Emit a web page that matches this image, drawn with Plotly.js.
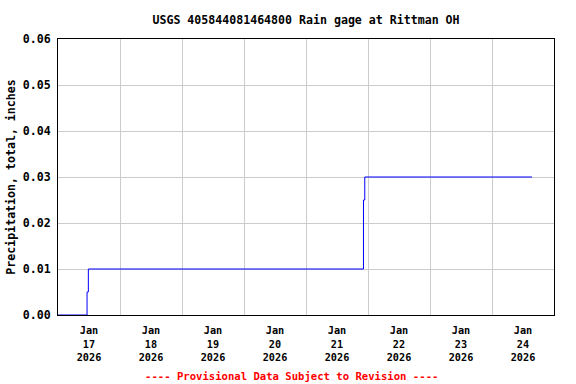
<!DOCTYPE html>
<html>
<head>
<meta charset="utf-8">
<script src="https://cdn.plot.ly/plotly-3.0.1.min.js"></script>
<style>html,body{margin:0;padding:0;background:#fff;}#chart{width:576px;height:384px;}</style>
</head>
<body>
<div id="chart"></div>
<script>
const times = ["2026-01-17 00:00", "2026-01-17 11:15", "2026-01-17 11:45", "2026-01-21 22:15", "2026-01-21 22:45", "2026-01-24 15:30"];
const precip = [0, 0.005, 0.01, 0.025, 0.03, 0.03];
const xRange = ["2026-01-17 00:00", "2026-01-25 00:00"];
const yRange = [0, 0.06];
const titleText = "USGS 405844081464800 Rain gage at Rittman OH";
const yTitle = "Precipitation, total, inches";
const footer = "---- Provisional Data Subject to Revision ----";

const FONT = "DejaVu Sans Mono, monospace";

Plotly.newPlot("chart", [{
  x: times, y: precip, type: "scatter", mode: "lines",
  line: {shape: "hv", color: "#0000ff", width: 1},
  hoverinfo: "skip"
}], {
  width: 576, height: 384,
  margin: {l: 58, r: 22, t: 39, b: 69},
  paper_bgcolor: "#ffffff", plot_bgcolor: "#ffffff",
  showlegend: false,
  font: {family: FONT, color: "#000", size: 12, weight: "bold"},
  title: {text: "<b>" + titleText + "</b>", font: {family: FONT, size: 11.6, color: "#000"}, x: 0.5, xref: "paper", y: 1 - 20/384, yanchor: "middle"},
  xaxis: {
    type: "date", range: xRange, dtick: 86400000, tick0: "2026-01-17 00:00",
    ticklabelmode: "period", tickformat: "<b>%b</b><br><b>%d</b><br><b>%Y</b>",
    tickfont: {family: FONT, size: 10.2, color: "#000"},
    ticklabelstandoff: 6,
    showgrid: true, gridcolor: "#cccccc", gridwidth: 1,
    showline: true, linecolor: "#000", linewidth: 1, mirror: true,
    ticks: "", zeroline: false
  },
  yaxis: {
    range: yRange, dtick: 0.01, tick0: 0, tickformat: ".2f",
    tickfont: {family: FONT, size: 11.6, color: "#000", weight: "bold"},
    showgrid: true, gridcolor: "#cccccc", gridwidth: 1,
    showline: true, linecolor: "#000", linewidth: 1, mirror: true,
    ticks: "outside", ticklen: 4, tickcolor: "rgba(0,0,0,0)", zeroline: false,
    title: {text: "<b>" + yTitle + "</b>", font: {family: FONT, size: 11.6, color: "#000"}, standoff: 4}
  },
  annotations: [{
    text: "<b>" + footer + "</b>", xref: "paper", yref: "paper",
    x: (291 - 58) / 496, y: -(376 - 315) / 276, xanchor: "center", yanchor: "middle",
    showarrow: false, font: {family: FONT, size: 10.6, color: "#ff0000"}
  }]
}, {displayModeBar: false, staticPlot: true});
</script>
</body>
</html>
